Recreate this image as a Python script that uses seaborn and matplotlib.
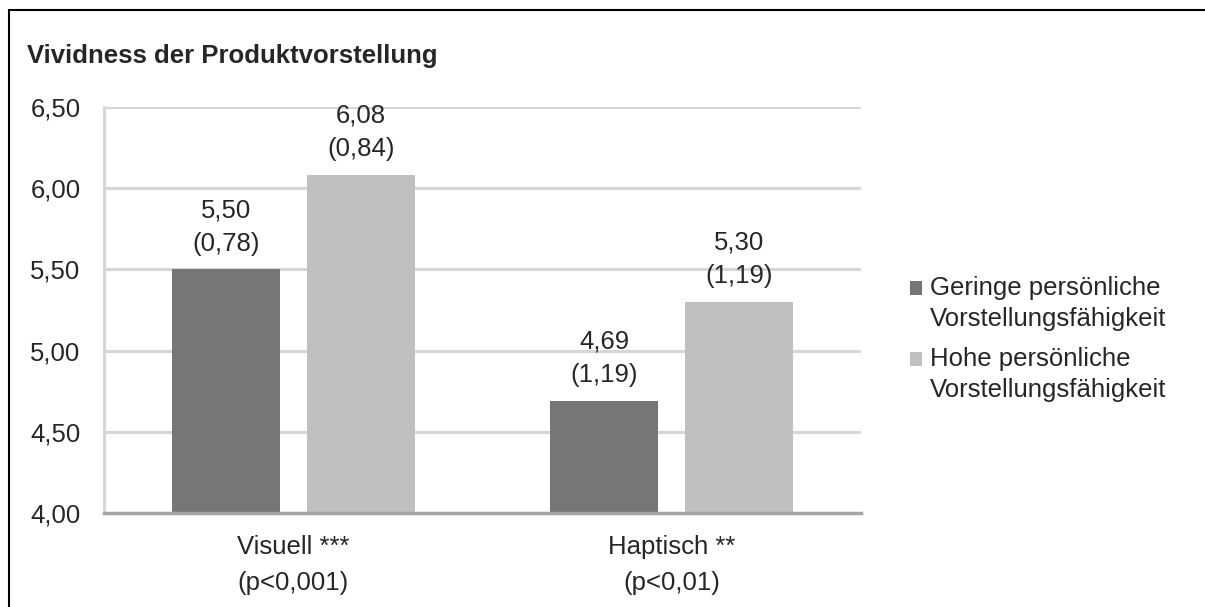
import matplotlib
matplotlib.use("Agg")
import matplotlib.pyplot as plt
import seaborn as sns
import pandas as pd
from matplotlib.lines import Line2D
from matplotlib.patches import Rectangle
from matplotlib.legend_handler import HandlerPatch

categories = ["Visuell ***\n(p<0,001)", "Haptisch **\n(p<0,01)"]
groups = ["Geringe persönliche\nVorstellungsfähigkeit", "Hohe persönliche\nVorstellungsfähigkeit"]
means_low = [5.50, 4.69]
means_high = [6.08, 5.30]
sd_low = [0.78, 1.19]
sd_high = [0.84, 1.19]
yticks = [4.00, 4.50, 5.00, 5.50, 6.00, 6.50]
title = "Vividness der Produktvorstellung"

colors = ["#767676", "#c0c0c0"]
FS = 18.5

sns.set_theme(style="white")
plt.rcParams['font.family'] = ['Liberation Sans', 'DejaVu Sans']

df = pd.DataFrame({
    "cat": categories * 2,
    "grp": [groups[0]] * 2 + [groups[1]] * 2,
    "val": means_low + means_high,
})

fig = plt.figure(figsize=(12.05, 6.07), dpi=100)
ax = fig.add_axes([104 / 1205, 1 - 513 / 607, (861 - 104) / 1205, (513 - 107) / 607])

sns.barplot(data=df, x="cat", y="val", hue="grp", palette=colors,
            width=0.713, gap=0.2, ax=ax, saturation=1, errorbar=None,
            order=categories, hue_order=groups, zorder=3, linewidth=0,
            edgecolor="none")

ax.set_ylim(4.0, 6.5)
ax.set_xlim(-0.5, 1.5)
ax.set_yticks(yticks)
ax.set_yticklabels([f"{t:.2f}".replace(".", ",") for t in yticks], fontsize=FS)
ax.tick_params(axis="x", labelsize=FS, length=0, pad=16)
ax.tick_params(axis="y", length=0, pad=17)
for lab in ax.get_xticklabels():
    lab.set_linespacing(1.6)
ax.set_xlabel("")
ax.set_ylabel("")
ax.grid(axis="y", color="#d6d6d6", linewidth=2.2, zorder=0)
ax.set_axisbelow(True)
for s in ["top", "right"]:
    ax.spines[s].set_visible(False)
ax.spines["left"].set_color("#d6d6d6")
ax.spines["left"].set_linewidth(2.2)
ax.spines["bottom"].set_color("#a4a4a4")
ax.spines["bottom"].set_linewidth(2.5)
ax.spines["bottom"].set_zorder(5)

def fmt(m, s):
    return f"{m:.2f}".replace(".", ",") + "\n(" + f"{s:.2f}".replace(".", ",") + ")"

ax.bar_label(ax.containers[0], labels=[fmt(m, s) for m, s in zip(means_low, sd_low)],
             padding=10, fontsize=FS, linespacing=1.5)
ax.bar_label(ax.containers[1], labels=[fmt(m, s) for m, s in zip(means_high, sd_high)],
             padding=10, fontsize=FS, linespacing=1.5)


class UpHandler(HandlerPatch):
    def __init__(self, shift, **kw):
        super().__init__(**kw)
        self.shift = shift

    def create_artists(self, legend, orig_handle, xdescent, ydescent, width, height,
                       fontsize, trans):
        p = Rectangle((-xdescent, -ydescent + self.shift), width, height,
                      facecolor=orig_handle.get_facecolor(), edgecolor="none",
                      transform=trans)
        return [p]


handles, labels = ax.get_legend_handles_labels()
leg = ax.legend(handles, labels, loc="center left",
                bbox_to_anchor=(910 / 1205, 1 - 339 / 607),
                bbox_transform=fig.transFigure, frameon=False,
                fontsize=FS, handlelength=0.47, handleheight=0.47, handletextpad=0.31,
                labelspacing=0.62, borderpad=0, borderaxespad=0,
                handler_map={h: UpHandler(11.5) for h in handles})
for t in leg.get_texts():
    t.set_linespacing(1.35)

fig.text(27 / 1205, 1 - 63 / 607, title,
         fontsize=FS, fontweight="bold", va="baseline", ha="left")

fig.add_artist(Line2D([9 / 1205, 1.0], [1 - 10 / 607, 1 - 10 / 607], color="black", linewidth=1.5))
fig.add_artist(Line2D([9 / 1205, 9 / 1205], [0.0, 1 - 10 / 607], color="black", linewidth=1.5))

fig.savefig("out.png", dpi=100)
